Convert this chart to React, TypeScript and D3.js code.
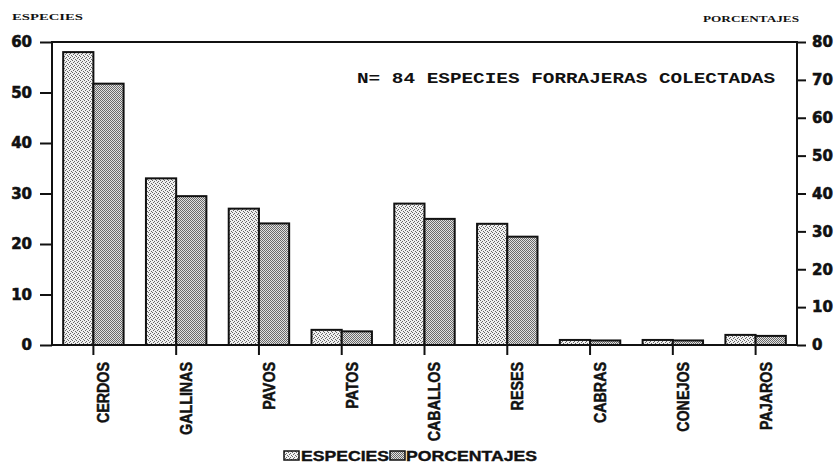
import { useEffect, useRef } from "react";
import * as d3 from "d3";

const categories = ["CERDOS", "GALLINAS", "PAVOS", "PATOS", "CABALLOS", "RESES", "CABRAS", "CONEJOS", "PAJAROS"];
const especies = [58, 33, 27, 3, 28, 24, 1, 1, 2];
const porcentajes = [69.0, 39.3, 32.1, 3.6, 33.3, 28.6, 1.2, 1.2, 2.4];
const seriesNames = ["ESPECIES", "PORCENTAJES"];
const leftTicks = [0, 10, 20, 30, 40, 50, 60];
const rightTicks = [0, 10, 20, 30, 40, 50, 60, 70, 80];
const note = "N= 84 ESPECIES FORRAJERAS COLECTADAS";

export default function App() {
  const svgRef = useRef<SVGSVGElement | null>(null);

  useEffect(() => {
    if (!svgRef.current) return;
    const svg = d3.select(svgRef.current);
    svg.selectAll("*").remove();

    const left = 52, right = 797, top = 42, bottom = 345;

    // dotted fills like the printed shading
    const defs = svg.append("defs");
    const p1 = defs.append("pattern").attr("id", "pat-esp").attr("width", 4).attr("height", 4)
      .attr("patternUnits", "userSpaceOnUse");
    p1.append("rect").attr("width", 4).attr("height", 4).attr("fill", "#f0f0f0");
    [[0, 0], [2, 1], [1, 2], [3, 3]].forEach(([a, b]) =>
      p1.append("rect").attr("x", a).attr("y", b).attr("width", 1).attr("height", 1).attr("fill", "#666"));
    const p2 = defs.append("pattern").attr("id", "pat-por").attr("width", 2).attr("height", 2)
      .attr("patternUnits", "userSpaceOnUse");
    p2.append("rect").attr("width", 2).attr("height", 2).attr("fill", "#e2e2e2");
    p2.append("rect").attr("x", 0).attr("y", 0).attr("width", 1).attr("height", 1).attr("fill", "#6a6a6a");
    p2.append("rect").attr("x", 1).attr("y", 1).attr("width", 1).attr("height", 1).attr("fill", "#6a6a6a");
    const fills = ["url(#pat-esp)", "url(#pat-por)"];

    // Scales
    const x = d3.scaleBand().domain(categories).range([left, right]).paddingInner(0.27).paddingOuter(0.135);
    const x1 = d3.scaleBand().domain(seriesNames).range([0, x.bandwidth()]);
    const yL = d3.scaleLinear().domain([0, 60]).range([bottom, top]);
    const yR = d3.scaleLinear().domain([0, 80]).range([bottom, top]);

    // Bars
    const rows = categories.map((c, i) => ({ c, vals: [yL(especies[i]), yR(porcentajes[i])] }));
    const g = svg.append("g");
    rows.forEach(r => {
      seriesNames.forEach((s, j) => {
        g.append("rect")
          .attr("x", (x(r.c) as number) + (x1(s) as number))
          .attr("y", r.vals[j])
          .attr("width", x1.bandwidth())
          .attr("height", bottom - r.vals[j])
          .attr("fill", fills[j])
          .attr("stroke", "#111")
          .attr("stroke-width", 2);
      });
    });

    const tickFont = "'DejaVu Sans', sans-serif";

    // Left axis
    const ax = svg.append("g").attr("transform", `translate(${left},0)`)
      .call(d3.axisLeft(yL).tickValues(leftTicks).tickSize(12).tickPadding(8).tickFormat(d3.format("d")));
    ax.select(".domain").remove();
    ax.selectAll("line").attr("stroke", "#111").attr("stroke-width", 2);
    ax.selectAll("text").attr("font-family", tickFont).attr("font-weight", "bold").attr("font-size", 15)
      .attr("stroke", "#111").attr("stroke-width", 0.6).attr("fill", "#111");

    // Right axis
    const ar = svg.append("g").attr("transform", `translate(${right},0)`)
      .call(d3.axisRight(yR).tickValues(rightTicks).tickSize(9).tickPadding(6).tickFormat(d3.format("d")));
    ar.select(".domain").remove();
    ar.selectAll("line").attr("stroke", "#111").attr("stroke-width", 2);
    ar.selectAll("text").attr("font-family", tickFont).attr("font-weight", "bold").attr("font-size", 15)
      .attr("stroke", "#111").attr("stroke-width", 0.6).attr("fill", "#111");

    // Frame
    svg.append("rect").attr("x", left).attr("y", top).attr("width", right - left).attr("height", bottom - top)
      .attr("fill", "none").attr("stroke", "#111").attr("stroke-width", 2);

    // Bottom axis
    const ab = svg.append("g").attr("transform", `translate(0,${bottom})`)
      .call(d3.axisBottom(x).tickSize(10).tickPadding(0));
    ab.select(".domain").remove();
    ab.selectAll("line").attr("stroke", "#111").attr("stroke-width", 2);
    ab.selectAll("text")
      .attr("font-family", "'Liberation Sans', Arial, sans-serif")
      .attr("font-weight", "bold")
      .attr("font-size", 17)
      .attr("fill", "#111")
      .attr("stroke", "#111")
      .attr("stroke-width", 0.5)
      .attr("text-anchor", "end")
      .attr("dy", "0.35em")
      .attr("transform", "translate(0,17) rotate(-90) scale(0.84,1)");

    // Axis titles
    svg.append("text").attr("x", 12).attr("y", 20).attr("font-family", "'Liberation Serif', serif")
      .attr("font-weight", "bold").attr("font-size", 8).attr("textLength", 71).attr("lengthAdjust", "spacingAndGlyphs")
      .attr("fill", "#111").text("ESPECIES");
    svg.append("text").attr("x", 703).attr("y", 22).attr("font-family", "'Liberation Serif', serif")
      .attr("font-weight", "bold").attr("font-size", 8).attr("textLength", 96).attr("lengthAdjust", "spacingAndGlyphs")
      .attr("fill", "#111").text("PORCENTAJES");

    // Note
    svg.append("text").attr("x", 357).attr("y", 83)
      .attr("font-family", "'Liberation Mono', 'Courier New', monospace")
      .attr("font-weight", "bold").attr("font-size", 15)
      .attr("textLength", 418).attr("lengthAdjust", "spacingAndGlyphs")
      .attr("fill", "#111").text(note);

    // Legend
    const leg = svg.append("g");
    const legItems = [
      { name: seriesNames[0], sx: 284, tx: 301, len: 88 },
      { name: seriesNames[1], sx: 390, tx: 406, len: 131 },
    ];
    legItems.forEach((it, i) => {
      leg.append("rect").attr("x", it.sx).attr("y", 451).attr("width", 15).attr("height", 9)
        .attr("fill", fills[i]).attr("stroke", "#111").attr("stroke-width", 1.5);
      leg.append("text").attr("x", it.tx).attr("y", 461)
        .attr("font-family", "'Liberation Sans', Arial, sans-serif").attr("font-weight", "bold")
        .attr("font-size", 15).attr("textLength", it.len).attr("lengthAdjust", "spacingAndGlyphs")
        .attr("stroke", "#111").attr("stroke-width", 0.4)
        .attr("fill", "#111").text(it.name);
    });
  }, []);

  return (
    <div style={{ position: "fixed", left: 0, top: 0, width: 837, height: 469, background: "#fff" }}>
      <svg ref={svgRef} width={837} height={469} viewBox="0 0 837 469" />
    </div>
  );
}
